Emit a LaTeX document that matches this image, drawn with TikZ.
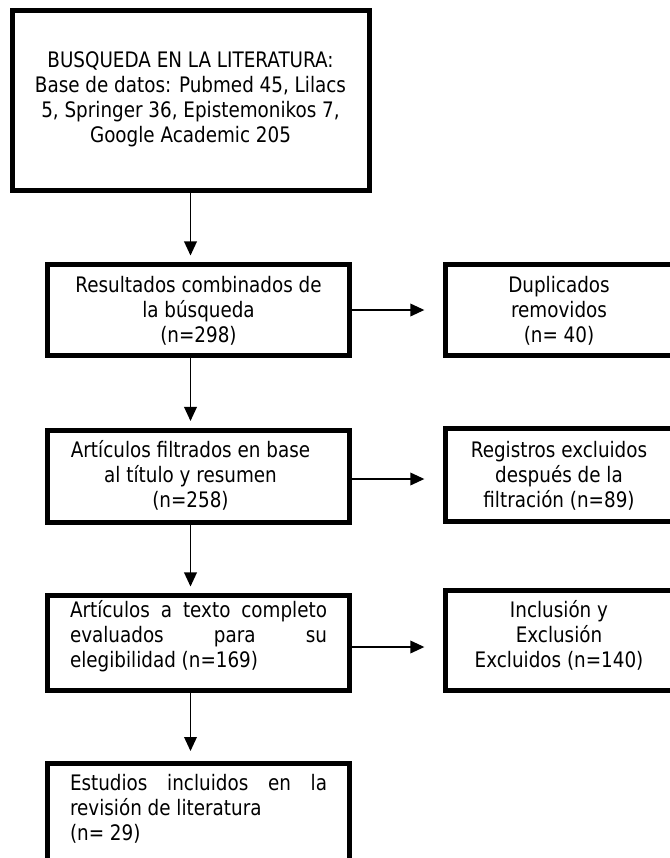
\documentclass[tikz,border=0pt]{standalone}
\usepackage{fontspec}
\setmainfont{DejaVu Sans}[FakeStretch=0.86]
\usetikzlibrary{arrows.meta}
\newcommand\fl{\rule{0pt}{15pt}}
\begin{document}
\begin{tikzpicture}[x=0.75pt,y=-0.75pt,
  box/.style={draw=black, line width=3.75pt, rectangle, inner sep=0pt},
  wh/.style 2 args={minimum width=#1*0.75pt, minimum height=#2*0.75pt},
  txt/.style={inner sep=0pt, anchor=north, align=center,
    font=\fontsize{16}{18.75}\selectfont},
  arr/.style={-{Triangle[length=10.5pt,width=9.5pt]}, line width=1.1pt},
]
\useasboundingbox (0,0) rectangle (670,858);
\fill[white] (0,0) rectangle (670,858);

% boxes
\node[box, wh={357}{180}] (b1) at (190.5,100) {};
\node[box, wh={302}{91}] (b2) at (198.5,310) {};
\node[box, wh={227}{91}] (dup) at (559,310) {};
\node[box, wh={302}{92}] (b3) at (198.5,476) {};
\node[box, wh={227}{93}] (reg) at (559,475) {};
\node[box, wh={302}{95}] (b4) at (198.5,643) {};
\node[box, wh={227}{100}] (incl) at (559,640) {};
\node[box, wh={302}{97}] (b5) at (198.5,812) {};

% texts
\node[txt] (t1) at ([yshift=-30pt]b1.north)
  {\fl BUSQUEDA EN LA LITERATURA:\\Base de datos: Pubmed 45, Lilacs\\5, Springer 36, Epistemonikos 7,\\Google Academic 205};
\node[txt] (t2) at ([yshift=-7.9pt]b2.north)
  {\fl Resultados combinados de\\la búsqueda\\(n=298)};
\node[txt] (tdup) at ([yshift=-7.9pt]dup.north)
  {\fl Duplicados\\removidos\\(n= 40)};
\node[txt] (t3) at ([yshift=-7.5pt,xshift=-6pt]b3.north)
  {\fl Artículos filtrados en base\\al título y resumen\\(n=258)};
\node[txt] (treg) at ([yshift=-8.6pt]reg.north)
  {\fl Registros excluidos\\después de la\\filtración (n=89)};
\node[txt, align=left] (t4) at ([yshift=-3.4pt]b4.north)
  {\fl\makebox[192.75pt][s]{Artículos a texto completo}\\\makebox[192.75pt][s]{evaluados para su}\\elegibilidad (n=169)};
\node[txt] (tincl) at ([yshift=-7.5pt]incl.north)
  {\fl Inclusión y\\Exclusión\\Excluidos (n=140)};
\node[txt, align=left] (t5) at ([yshift=-7.1pt]b5.north)
  {\fl\makebox[192.75pt][s]{Estudios incluidos en la}\\revisión de literatura\\(n= 29)};

% connectors
\draw[arr, shorten >=4.9pt] (b1.south) -- (b1.south |- b2.north);
\draw[arr, shorten >=4.9pt] (b2.south -| b1.south) -- (b3.north -| b1.south);
\draw[arr, shorten >=4.9pt] (b3.south -| b1.south) -- (b4.north -| b1.south);
\draw[arr, shorten >=7.5pt] (b4.south -| b1.south) -- (b5.north -| b1.south);

\draw[arr, shorten >=14pt] (b2.east) -- (dup.west);
\draw[arr, shorten >=14pt] ([yshift=-2.25pt]b3.east) -- ([yshift=-2.25pt]b3.east -| reg.west);
\draw[arr, shorten >=14pt] ([yshift=-3pt]b4.east) -- ([yshift=-3pt]b4.east -| incl.west);
\end{tikzpicture}
\end{document}
